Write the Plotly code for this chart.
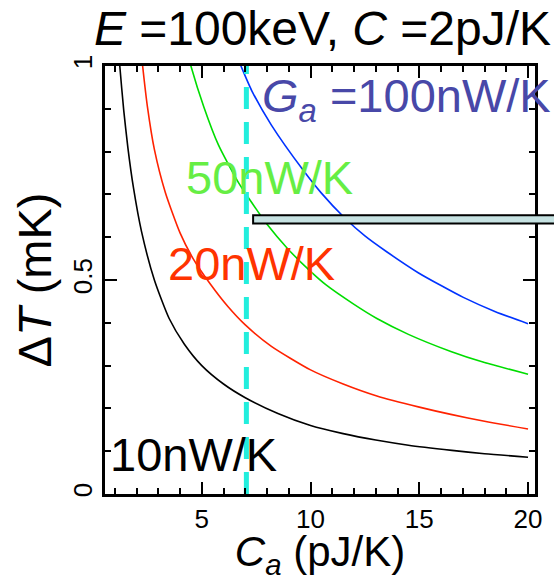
import plotly.graph_objects as go

# ---- data ----
ca_10 = [1.15, 1.23, 1.41, 1.60, 1.86, 2.23, 2.82, 3.50, 4.20, 5.00, 6.00, 7.00, 8.50, 10.0, 11.5, 13.0, 14.5, 16.5, 18.0, 20.0]
dt_10 = [1.06, 1.00, 0.897, 0.810, 0.715, 0.613, 0.500, 0.410, 0.350, 0.300, 0.257, 0.225, 0.188, 0.160, 0.141, 0.126, 0.114, 0.102, 0.094, 0.086]

ca_20 = [2.20, 2.28, 2.50, 2.82, 3.32, 4.00, 4.60, 5.40, 6.20, 7.00, 8.20, 10.0, 11.5, 13.05, 15.0, 16.45, 18.0, 20.0]
dt_20 = [1.04, 1.00, 0.905, 0.805, 0.705, 0.610, 0.550, 0.490, 0.438, 0.395, 0.345, 0.290, 0.257, 0.229, 0.203, 0.186, 0.170, 0.152]

ca_50 = [4.40, 4.50, 5.09, 5.77, 6.68, 7.20, 8.00, 8.95, 10.0, 10.7, 12.0, 13.05, 14.5, 16.45, 18.0, 20.0]
dt_50 = [1.02, 1.00, 0.905, 0.815, 0.728, 0.688, 0.630, 0.573, 0.520, 0.489, 0.443, 0.410, 0.373, 0.333, 0.307, 0.280]

ca_100 = [6.70, 6.80, 7.30, 8.20, 9.70, 10.5, 11.55, 12.5, 13.5, 14.95, 16.0, 17.0, 18.5, 20.0]
dt_100 = [1.012, 1.00, 0.942, 0.862, 0.754, 0.703, 0.646, 0.603, 0.566, 0.517, 0.487, 0.460, 0.426, 0.398]

series_labels = ["10nW/K", "20nW/K", "50nW/K", "<i>G<sub>a</sub></i> =100nW/K"]
series_colors = ["#000000", "#FF2200", "#00DD00", "#0033FF"]
label_colors = ["#000000", "#FF3300", "#66EE44", "#4848A8"]
label_pos = [(0.70, 0.092), (3.36, 0.538), (4.18, 0.74), (7.68, 0.924)]

ca_marker = 7.05          # dashed vertical line
band_x0 = 7.36            # horizontal band start
band_y = (0.632, 0.651)

x_range = [0.55, 20.32]
y_range = [0.0, 1.0]
x_ticks = [5, 10, 15, 20]
y_ticks = [0, 0.5, 1]
y_ticklabels = ["0", "0.5", "1"]

FONT = "Liberation Sans, Arial, sans-serif"

fig = go.Figure()
for xs, ys, c in zip([ca_10, ca_20, ca_50, ca_100], [dt_10, dt_20, dt_50, dt_100], series_colors):
    fig.add_trace(go.Scatter(x=xs, y=ys, mode="lines", line=dict(color=c, width=1.6, shape="spline", smoothing=0.6),
                             showlegend=False, hoverinfo="skip"))

fig.add_trace(go.Scatter(x=[ca_marker, ca_marker], y=[y_range[0], y_range[1]], mode="lines",
                         line=dict(color="#22EEDD", width=5, dash="22px,13px"), showlegend=False, hoverinfo="skip"))

px0 = (band_x0 - x_range[0]) / (x_range[1] - x_range[0])
fig.add_shape(type="rect", xref="paper", yref="y", x0=px0, x1=1.06, y0=band_y[0], y1=band_y[1],
              fillcolor="#C6E2E2", line=dict(color="black", width=2), layer="above")

for (lx, ly), txt, col in zip(label_pos, series_labels, label_colors):
    fig.add_annotation(x=lx, y=ly, xref="x", yref="y", text=txt, showarrow=False, xanchor="left", yanchor="middle",
                       font=dict(family=FONT, size=47, color=col))

axis_common = dict(showline=True, linecolor="black", linewidth=2.5, mirror="ticks", ticks="inside",
                   tickcolor="black", tickwidth=1.5, showgrid=False, zeroline=False,
                   tickfont=dict(family=FONT, size=26, color="black"))

fig.update_xaxes(range=x_range, tickvals=x_ticks, ticklen=12,
                 minor=dict(dtick=1, tick0=0, ticks="inside", ticklen=6, tickcolor="black", tickwidth=1.5),
                 title=dict(text="<i>C<sub>a</sub></i> (pJ/K)", font=dict(family=FONT, size=42, color="black"), standoff=6),
                 **axis_common)
fig.update_yaxes(range=y_range, tickvals=y_ticks, ticktext=y_ticklabels, ticklen=12, tickangle=-90,
                 minor=dict(dtick=0.1, tick0=0, ticks="inside", ticklen=6, tickcolor="black", tickwidth=1.5),
                 title=dict(text="Δ<i>T</i> (mK)", font=dict(family=FONT, size=47, color="black"), standoff=2),
                 **axis_common)

fig.update_layout(
    width=554, height=581,
    margin=dict(l=105, r=14, t=66, b=79),
    paper_bgcolor="white", plot_bgcolor="white",
    title=dict(text="<i>E</i> =100keV, <i>C</i> =2pJ/K", x=(105 + 540) / 2 / 554, xanchor="center",
               y=1 - 28 / 581, yanchor="middle", yref="container",
               font=dict(family=FONT, size=48, color="black")),
)

fig.write_html("out.html")
